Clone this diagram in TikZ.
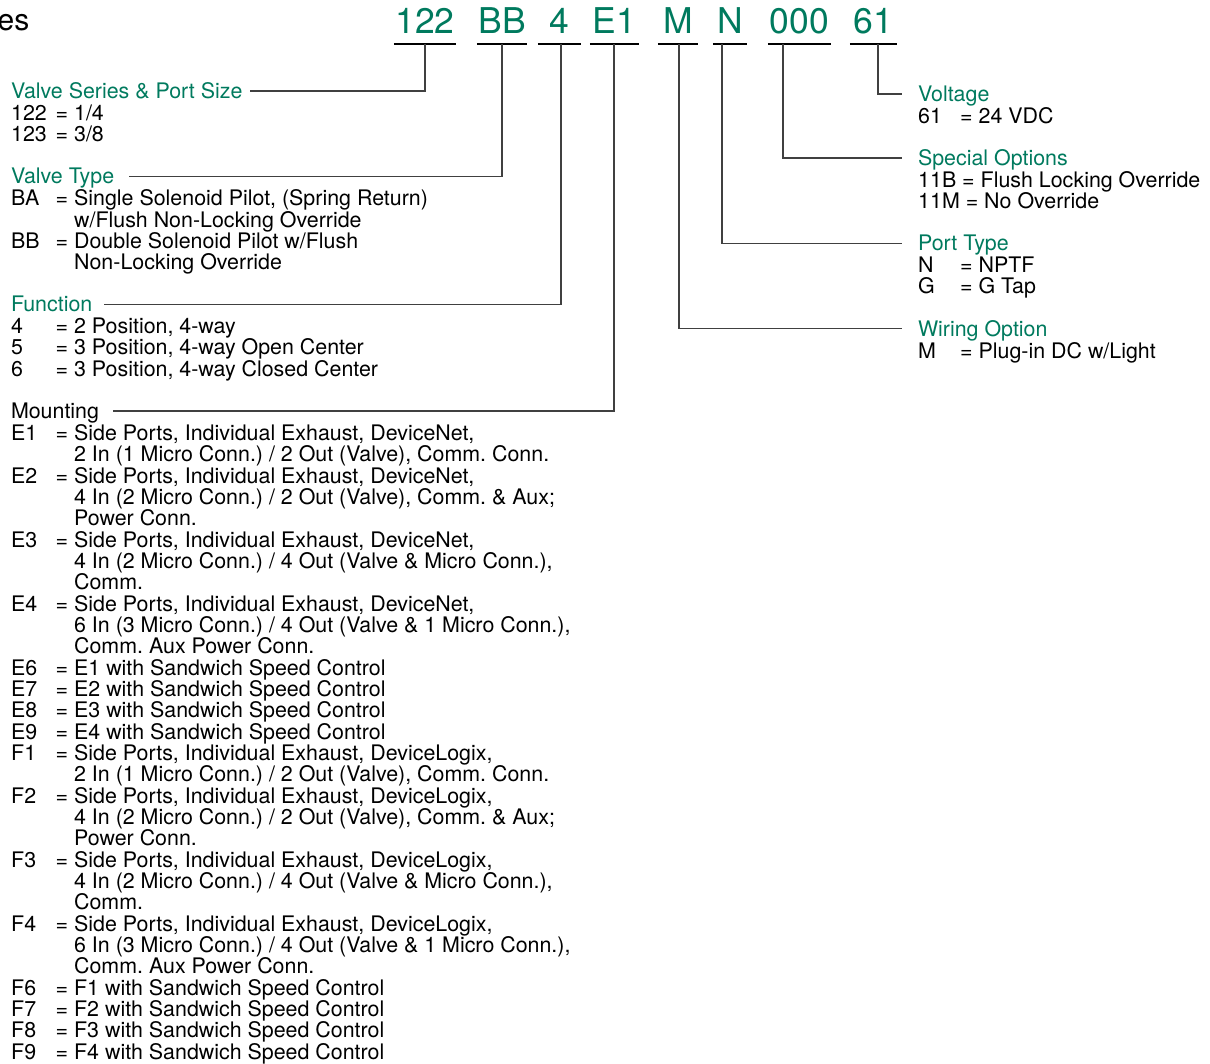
\documentclass[tikz,border=0pt]{standalone}
\usepackage{fontspec}
\setmainfont{TeX Gyre Heros}
\frenchspacing
\definecolor{vgreen}{RGB}{0,122,94}
\newcommand{\vstrut}{\rule[-5.83pt]{0pt}{15.5pt}}
\newcommand{\vkey}[1]{\vstrut\makebox[44.5pt][l]{#1}=\ }
\newcommand{\vcont}{\vstrut\phantom{\makebox[44.5pt][l]{}=\ }}
\newcommand{\rkey}[1]{\vstrut\makebox[42pt][l]{#1}=\ }
\tikzset{
  code/.style={text=vgreen, font=\fontsize{35.5}{36}\selectfont, inner sep=0pt,
    anchor=base, text height=26pt, text depth=10pt},
  uline/.style={line width=2pt},
  head/.style={text=vgreen, inner sep=0pt, outer xsep=#1, text height=15pt,
    text depth=0pt, anchor=text},
  head/.default=14pt,
  body/.style={inner sep=0pt, anchor=north west, align=left,
    execute at begin node={\lineskiplimit=-50pt}},
  conn/.style={draw=black!75, line width=1.1pt}
}
\begin{document}
\begin{tikzpicture}[x=1pt, y=-1pt, font=\fontsize{21.4}{21.33}\selectfont]
  \useasboundingbox (0,0) rectangle (1210,1063);
  \node[anchor=base east, inner sep=0pt, font=\fontsize{30}{30}\selectfont] (title) at (29.5,30) {es};

  % model code
  \node[code, minimum width=62pt] (cSeries) at (425,33.5) {122};
  \node[code, minimum width=50pt] (cType) at (502,33.5) {BB};
  \node[code, minimum width=43pt] (cFunc) at (559.5,33.5) {4};
  \node[code, minimum width=49pt] (cMount) at (614.5,33.5) {E1};
  \node[code, minimum width=40pt] (cWire) at (678,33.5) {M};
  \node[code, minimum width=34pt] (cPort) at (730,33.5) {N};
  \node[code, minimum width=63pt] (cSpecial) at (799.5,33.5) {000};
  \node[code, minimum width=47pt] (cVolt) at (873.5,33.5) {61};
  \foreach \c in {cSeries,cType,cFunc,cMount,cWire,cPort,cSpecial,cVolt}
    \draw[uline] (\c.south west) -- (\c.south east);

  % left column
  \node[head=7pt] (series) at (11,98.5) {Valve Series \& Port Size};
  \node[body] (seriesb) at (11,104.3) {\vkey{122}1/4\\
    \vkey{123}3/8};

  \node[head=15pt] (vtype) at (11,183.8) {Valve Type};
  \node[body] (vtypeb) at (11,189.7) {\vkey{BA}Single Solenoid Pilot, (Spring Return)\\
    \vcont w/Flush Non-Locking Override\\
    \vkey{BB}Double Solenoid Pilot w/Flush\\
    \vcont Non-Locking Override};

  \node[head=12pt] (func) at (11,311.8) {Function};
  \node[body] (funcb) at (11,317.6) {\vkey{4}2 Position, 4-way\\
    \vkey{5}3 Position, 4-way Open Center\\
    \vkey{6}3 Position, 4-way Closed Center};

  \node[head, text=black] (mount) at (11,418.5) {Mounting};
  \node[body] (mountb) at (11,424.3) {\vkey{E1}Side Ports, Individual Exhaust, DeviceNet,\\
    \vcont 2 In (1 Micro Conn.) / 2 Out (Valve), Comm. Conn.\\
    \vkey{E2}Side Ports, Individual Exhaust, DeviceNet,\\
    \vcont 4 In (2 Micro Conn.) / 2 Out (Valve), Comm. \& Aux;\\
    \vcont Power Conn.\\
    \vkey{E3}Side Ports, Individual Exhaust, DeviceNet,\\
    \vcont 4 In (2 Micro Conn.) / 4 Out (Valve \& Micro Conn.),\\
    \vcont Comm.\\
    \vkey{E4}Side Ports, Individual Exhaust, DeviceNet,\\
    \vcont 6 In (3 Micro Conn.) / 4 Out (Valve \& 1 Micro Conn.),\\
    \vcont Comm. Aux Power Conn.\\
    \vkey{E6}E1 with Sandwich Speed Control\\
    \vkey{E7}E2 with Sandwich Speed Control\\
    \vkey{E8}E3 with Sandwich Speed Control\\
    \vkey{E9}E4 with Sandwich Speed Control\\
    \vkey{F1}Side Ports, Individual Exhaust, DeviceLogix,\\
    \vcont 2 In (1 Micro Conn.) / 2 Out (Valve), Comm. Conn.\\
    \vkey{F2}Side Ports, Individual Exhaust, DeviceLogix,\\
    \vcont 4 In (2 Micro Conn.) / 2 Out (Valve), Comm. \& Aux;\\
    \vcont Power Conn.\\
    \vkey{F3}Side Ports, Individual Exhaust, DeviceLogix,\\
    \vcont 4 In (2 Micro Conn.) / 4 Out (Valve \& Micro Conn.),\\
    \vcont Comm.\\
    \vkey{F4}Side Ports, Individual Exhaust, DeviceLogix,\\
    \vcont 6 In (3 Micro Conn.) / 4 Out (Valve \& 1 Micro Conn.),\\
    \vcont Comm. Aux Power Conn.\\
    \vkey{F6}F1 with Sandwich Speed Control\\
    \vkey{F7}F2 with Sandwich Speed Control\\
    \vkey{F8}F3 with Sandwich Speed Control\\
    \vkey{F9}F4 with Sandwich Speed Control};

  % right column
  \node[head=16pt] (volt) at (918,101.5) {Voltage};
  \node[body] (voltb) at (918,107.3) {\rkey{61}24 VDC};

  \node[head=16pt] (special) at (918,165.5) {Special Options};
  \node[body] (specialb) at (918,171.3) {\vstrut 11B = Flush Locking Override\\
    \vstrut 11M = No Override};

  \node[head=16pt] (port) at (918,250.8) {Port Type};
  \node[body] (portb) at (918,256.7) {\rkey{N}NPTF\\
    \rkey{G}G Tap};

  \node[head=16pt] (wiring) at (918,336.1) {Wiring Option};
  \node[body] (wiringb) at (918,342) {\rkey{M}Plug-in DC w/Light};

  % leader lines
  \draw[conn] (cSeries.south) |- (series.east);
  \draw[conn] (cType.south) |- (vtype.east);
  \draw[conn] (cFunc.south) ++(1.5,0) |- (func.east);
  \draw[conn] (cMount.south) ++(-0.5,0) |- (mount.east);
  \draw[conn] (cWire.south) ++(1,0) |- (wiring.west);
  \draw[conn] (cPort.south) ++(-8,0) |- (port.west);
  \draw[conn] (cSpecial.south) ++(-16.5,0) |- (special.west);
  \draw[conn] (cVolt.south) ++(4.5,0) |- (volt.west);
\end{tikzpicture}
\end{document}
